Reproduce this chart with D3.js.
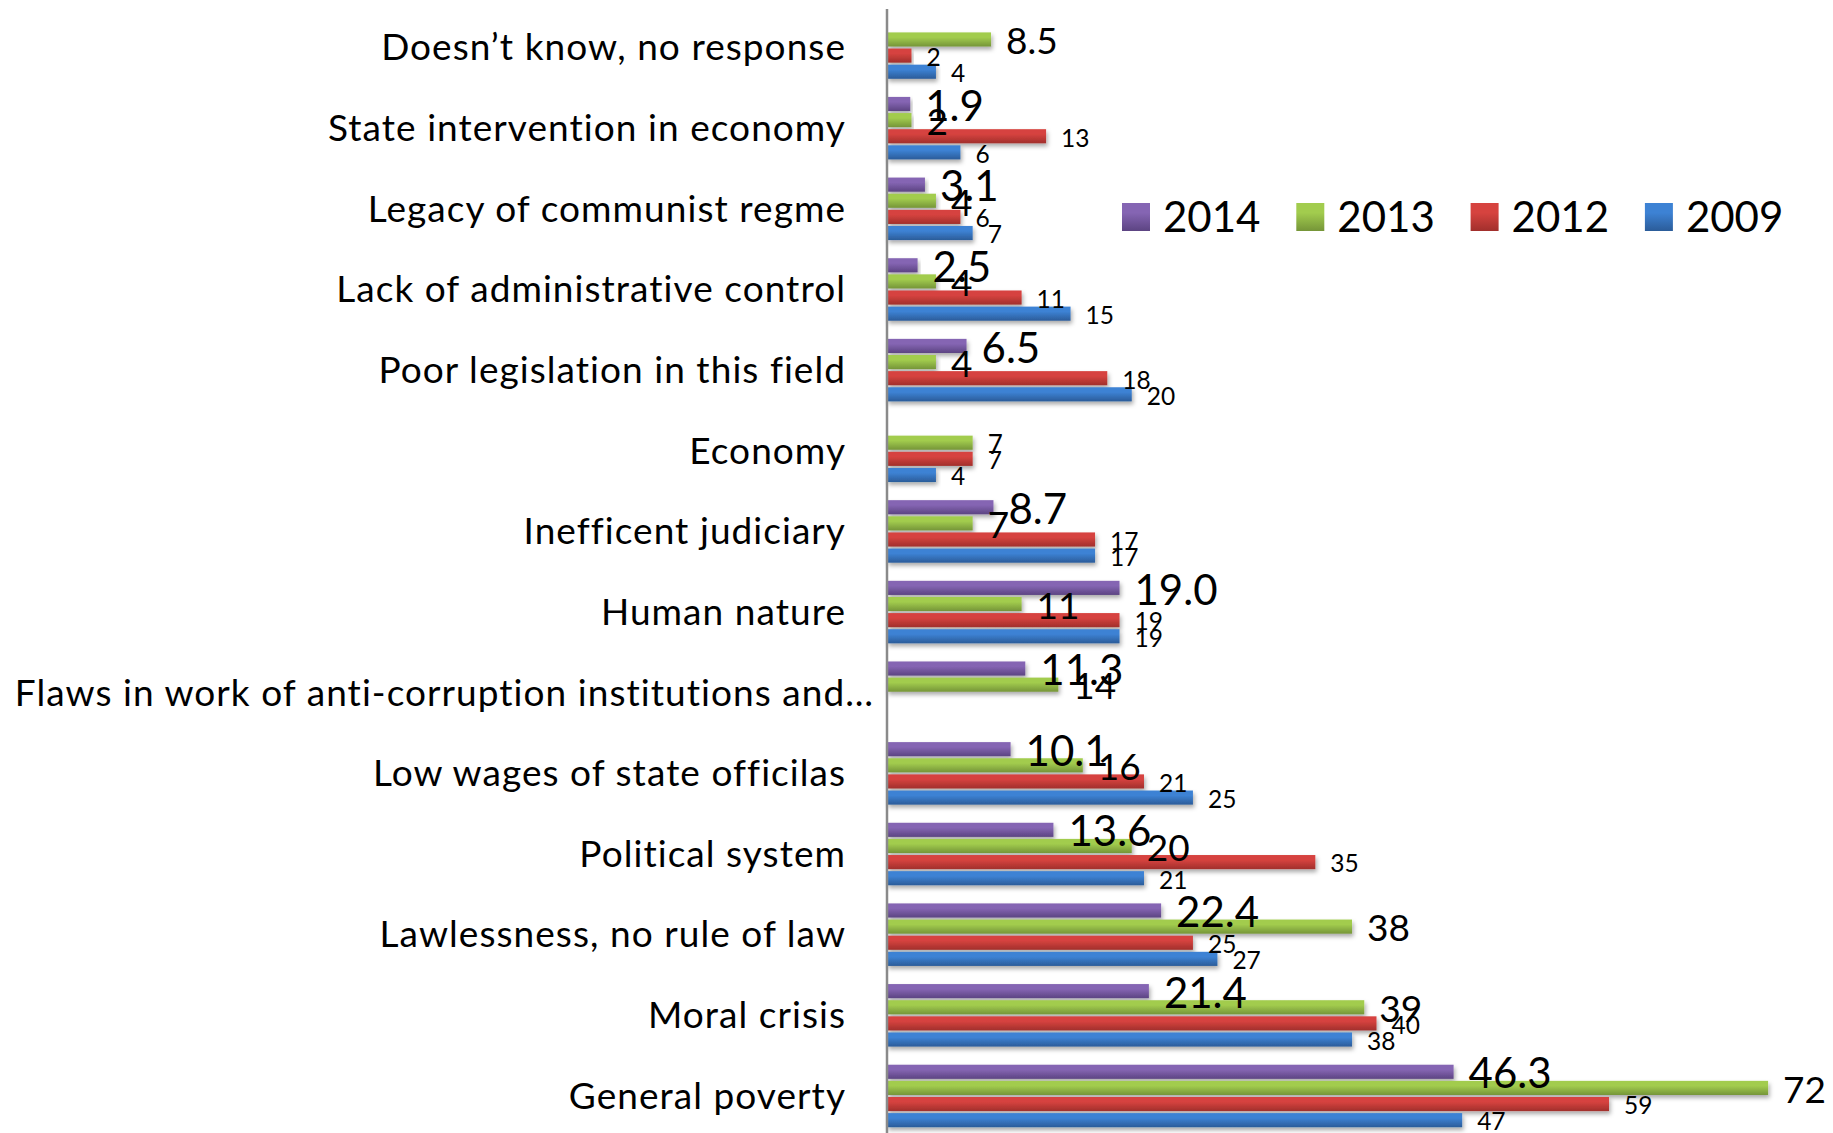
<!DOCTYPE html>
<html>
<head>
<meta charset="utf-8">
<script src="https://cdn.jsdelivr.net/npm/d3@7"></script>
<style>
  html, body { margin: 0; padding: 0; background: #fff; }
  svg { display: block; }
  text { font-family: Lato, "Open Sans", sans-serif; fill: #000; }
</style>
</head>
<body>
<script>
// Causes of corruption, share of respondents (%) by survey year
const categories = [
  "Doesn\u2019t know, no response",
  "State intervention in economy",
  "Legacy of communist regme",
  "Lack of administrative control",
  "Poor legislation in this field",
  "Economy",
  "Inefficent judiciary",
  "Human nature",
  "Flaws in work of anti-corruption institutions and\u2026",
  "Low wages of state officilas",
  "Political system",
  "Lawlessness, no rule of law",
  "Moral crisis",
  "General poverty"
];
const years = ["2014", "2013", "2012", "2009"];
const values2014 = [null, 1.9, 3.1, 2.5, 6.5, null, 8.7, 19.0, 11.3, 10.1, 13.6, 22.4, 21.4, 46.3];
const values2013 = [8.5, 2, 4, 4, 4, 7, 7, 11, 14, 16, 20, 38, 39, 72];
const values2012 = [2, 13, 6, 11, 18, 7, 17, 19, null, 21, 35, 25, 40, 59];
const values2009 = [4, 6, 7, 15, 20, 4, 17, 19, null, 25, 21, 27, 38, 47];
const seriesValues = { "2014": values2014, "2013": values2013, "2012": values2012, "2009": values2009 };

// Styling per series
const colors = {
  "2014": ["#8565b3", "#5c4482"],
  "2013": ["#a2cc4e", "#759538"],
  "2012": ["#d6433f", "#a12f2c"],
  "2009": ["#3d82d4", "#2b5c99"]
};
const labelFormat = { "2014": d3.format(".1f"), "2013": d3.format("~g"), "2012": d3.format("~g"), "2009": d3.format("~g") };
const labelSize = { "2014": 42, "2013": 37, "2012": 24.5, "2009": 24.5 };
const smallLabelOverride = new Set(["Economy|2013"]);

const W = 1833, H = 1133;
const svg = d3.select("body").append("svg").attr("width", W).attr("height", H);
const defs = svg.append("defs");

years.forEach(y => {
  const g = defs.append("linearGradient").attr("id", "grad" + y)
    .attr("x1", 0).attr("y1", 0).attr("x2", 0).attr("y2", 1);
  g.append("stop").attr("offset", "0%").attr("stop-color", colors[y][0]);
  g.append("stop").attr("offset", "35%").attr("stop-color", colors[y][0]);
  g.append("stop").attr("offset", "100%").attr("stop-color", colors[y][1]);
});
const shadow = defs.append("filter").attr("id", "shadow")
  .attr("x", "-5%").attr("y", "-40%").attr("width", "115%").attr("height", "200%");
shadow.append("feDropShadow").attr("dx", 1.5).attr("dy", 3).attr("stdDeviation", 2)
  .attr("flood-color", "#000").attr("flood-opacity", 0.33);

const axisX = 887;
const x = d3.scaleLinear().domain([0, 80]).range([axisX, axisX + 979]);
const y0 = d3.scaleBand().domain(categories).range([8.2, 1137.3])
  .paddingInner(0.2).paddingOuter(0.1);
const y1 = d3.scaleBand().domain(years).range([0, y0.bandwidth()]);
const barH = y1.bandwidth() - 2;

const rows = [];
categories.forEach((c, i) => {
  years.forEach(yr => {
    const v = seriesValues[yr][i];
    if (v !== null) rows.push({ cat: c, year: yr, value: v });
  });
});

// Bars
svg.append("g").selectAll("rect").data(rows).join("rect")
  .attr("x", axisX)
  .attr("y", d => y0(d.cat) + y1(d.year))
  .attr("width", d => x(d.value) - axisX)
  .attr("height", barH)
  .attr("fill", d => `url(#grad${d.year})`)
  .attr("filter", "url(#shadow)");

// Category axis
svg.append("line")
  .attr("x1", axisX).attr("x2", axisX).attr("y1", 9).attr("y2", H)
  .attr("stroke", "#8a8a8a").attr("stroke-width", 2.5);

svg.append("g").selectAll("text").data(categories).join("text")
  .attr("x", d => d.endsWith("\u2026") ? axisX - 13 : axisX - 41)
  .attr("y", d => y0(d) + y0.bandwidth() / 2 - 1.5)
  .attr("dy", "0.36em")
  .attr("text-anchor", "end")
  .style("font-size", "37px")
  .style("letter-spacing", "1.05px")
  .text(d => d);

// Value labels
svg.append("g").selectAll("text").data(rows).join("text")
  .attr("x", d => x(d.value) + 15)
  .attr("y", d => y0(d.cat) + y1(d.year) + barH / 2 + 1.5)
  .attr("dy", "0.36em")
  .style("font-size", d => (smallLabelOverride.has(d.cat + "|" + d.year) ? 26 : labelSize[d.year]) + "px")
  .text(d => labelFormat[d.year](d.value));

// Legend
const legend = svg.append("g").attr("transform", "translate(1122,203)");
const item = legend.selectAll("g").data(years).join("g")
  .attr("transform", (d, i) => `translate(${i * 174.3},0)`);
item.append("rect").attr("width", 28).attr("height", 28)
  .attr("fill", d => `url(#grad${d})`);
item.append("text").attr("x", 41).attr("y", 29)
  .style("font-size", "42px").text(d => d);
</script>
</body>
</html>
